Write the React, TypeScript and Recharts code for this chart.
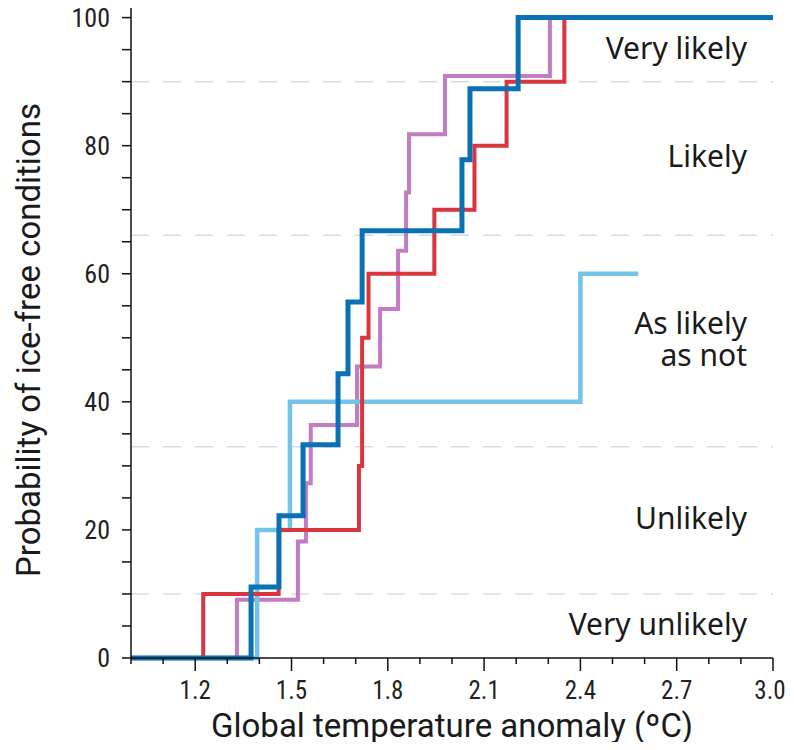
import { LineChart, Line, XAxis, YAxis, ReferenceLine, ReferenceArea } from 'recharts';

// step positions (°C) and cumulative probability (%) per model group
const redTemp = [1.0, 1.225, 1.46, 1.71, 1.72, 1.74, 1.945, 2.07, 2.17, 2.35];
const redProb = [0, 10, 20, 30, 50, 60, 70, 80, 90, 100];

const purpleTemp = [1.0, 1.33, 1.52, 1.545, 1.56, 1.704, 1.776, 1.832, 1.857, 1.866, 1.978, 2.305];
const purpleProb = [0, 9.1, 18.2, 27.3, 36.4, 45.5, 54.5, 63.6, 72.7, 81.8, 90.9, 100];

const darkBlueTemp = [1.0, 1.374, 1.461, 1.536, 1.645, 1.676, 1.72, 2.031, 2.056, 2.206, 3.0];
const darkBlueProb = [0, 11.1, 22.2, 33.3, 44.4, 55.6, 66.7, 77.8, 88.9, 100, 100];

const lightBlueTemp = [1.0, 1.393, 1.495, 2.4, 2.58];
const lightBlueProb = [0, 20, 40, 60, 60];

// likelihood zones
const zoneBounds = [0, 10, 33, 66, 90, 100];
const zoneNames = ['Very unlikely', 'Unlikely', 'As likely\nas not', 'Likely', 'Very likely'];

const xTicks = [1.0, 1.1, 1.2, 1.3, 1.4, 1.5, 1.6, 1.7, 1.8, 1.9, 2.0, 2.1, 2.2, 2.3, 2.4, 2.5, 2.6, 2.7, 2.8, 2.9, 3.0];
const xLabelTicks = ['1.2', '1.5', '1.8', '2.1', '2.4', '2.7', '3.0'];
const yTicks = [0, 5, 10, 15, 20, 25, 30, 35, 40, 45, 50, 55, 60, 65, 70, 75, 80, 85, 90, 95, 100];
const yLabelTicks = [0, 20, 40, 60, 80, 100];

const toRows = (t: number[], p: number[]) => t.map((v, i) => ({ t: v, p: p[i] }));

const NARROW = '"Liberation Sans Narrow", "Roboto Condensed", Roboto, sans-serif';
const SANS = '"Noto Sans", Roboto, sans-serif';
const TITLE = 'Roboto, sans-serif';

const XTick = (props: any) => {
  const { x, y, payload } = props;
  const label = payload.value.toFixed(1);
  const major = xLabelTicks.includes(label);
  const isLast = label === xLabelTicks[xLabelTicks.length - 1];
  return (
    <g>
      <line x1={x} x2={x} y1={y} y2={y + (major ? 13 : 6)} stroke="#111" strokeWidth={1.5} />
      {major && (
        <text x={x} dx={isLast ? -3 : 0} y={y + 41} textAnchor="middle" fontSize={25} fill="#222" fontFamily={NARROW}>
          {label}
        </text>
      )}
    </g>
  );
};

const YTick = (props: any) => {
  const { x, y, payload } = props;
  if (!yLabelTicks.includes(payload.value)) return <g />;
  return (
    <text x={x} y={y} dy={9} textAnchor="end" fontSize={26} fill="#222" fontFamily={NARROW}>
      {payload.value}
    </text>
  );
};

const YTitle = (props: any) => {
  const { viewBox } = props;
  const cx = viewBox.x + 20;
  const cy = viewBox.y + viewBox.height / 2 + 7;
  return (
    <text x={cx} y={cy} transform={`rotate(-90 ${cx} ${cy})`} textAnchor="middle" dominantBaseline="central" fontSize={33} fill="#1a1a1a" fontFamily={TITLE}>
      Probability of ice-free conditions
    </text>
  );
};

const ZoneLabel = (text: string) => (props: any) => {
  const { viewBox } = props;
  const lines = text.split('\n');
  const cx = viewBox.x + viewBox.width - 26;
  const cy = viewBox.y + viewBox.height / 2;
  const lh = 32;
  return (
    <text x={cx} y={cy} textAnchor="end" fontSize={30} fill="#1a1a1a" fontFamily={SANS}>
      {lines.map((l, i) => (
        <tspan key={i} x={cx} y={cy + (i - (lines.length - 1) / 2) * lh} dy={9}>
          {l}
        </tspan>
      ))}
    </text>
  );
};

export default function App() {
  return (
    <div style={{ margin: '-8px -8px', width: 794, height: 750, overflow: 'visible' }}>
      <style>{'html, body { overflow: hidden; } .recharts-surface { overflow: visible; }'}</style>
      <LineChart
        width={794}
        height={750}
        margin={{ top: 8, right: 21, bottom: 0, left: 8 }}
        style={{ background: '#fff' }}
      >
        <XAxis
          type="number"
          dataKey="t"
          domain={[1.0, 3.0]}
          ticks={xTicks}
          interval={0}
          height={92}
          tickSize={0}
          tickMargin={0}
          tick={<XTick />}
          axisLine={{ stroke: '#111', strokeWidth: 1.5 }}
          label={{ value: 'Global temperature anomaly (ºC)', position: 'insideBottom', offset: 13, fontSize: 33, fill: '#1a1a1a', fontFamily: TITLE }}
        />
        <YAxis
          type="number"
          dataKey="p"
          domain={[0, 101.5]}
          ticks={yTicks}
          interval={0}
          width={123}
          tickSize={9}
          tickMargin={12}
          tickLine={{ stroke: '#111', strokeWidth: 1.5 }}
          tick={<YTick />}
          axisLine={{ stroke: '#111', strokeWidth: 1.5 }}
          label={{ content: <YTitle /> }}
        />
        {zoneNames.map((name, i) => (
          <ReferenceArea
            key={name}
            x1={1.0}
            x2={3.0}
            y1={zoneBounds[i]}
            y2={zoneBounds[i + 1]}
            fillOpacity={0}
            strokeOpacity={0}
            label={ZoneLabel(name)}
          />
        ))}
        {zoneBounds.slice(1, -1).map((b) => (
          <ReferenceLine key={b} y={b} stroke="#d3dbe8" strokeWidth={1.5} strokeDasharray="18 14" />
        ))}
        <Line data={toRows(purpleTemp, purpleProb)} dataKey="p" type="stepAfter" stroke="#c27cc1" strokeWidth={4} dot={false} isAnimationActive={false} />
        <Line data={toRows(lightBlueTemp, lightBlueProb)} dataKey="p" type="stepAfter" stroke="#74c4ea" strokeWidth={4.5} dot={false} isAnimationActive={false} />
        <Line data={toRows(redTemp, redProb)} dataKey="p" type="stepAfter" stroke="#d9363f" strokeWidth={4} dot={false} isAnimationActive={false} />
        <Line data={toRows(darkBlueTemp, darkBlueProb)} dataKey="p" type="stepAfter" stroke="#0a71b4" strokeWidth={5} dot={false} isAnimationActive={false} />
      </LineChart>
    </div>
  );
}
